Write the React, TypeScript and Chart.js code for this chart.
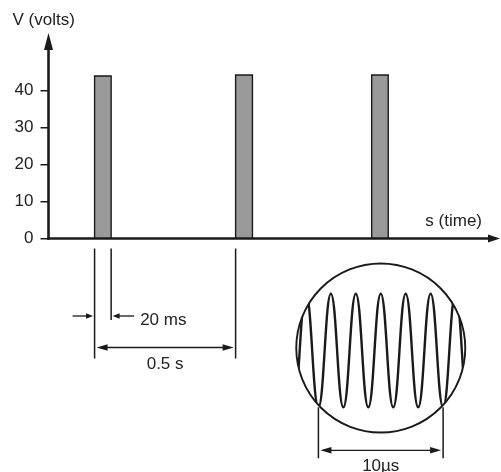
import { useEffect, useRef } from "react";
import { Chart, registerables } from "chart.js";

Chart.register(...registerables);

// ---- data ----
const yTickValues = [0, 10, 20, 30, 40];
const pulseStarts = [0.167, 0.678, 1.171]; // s
const pulseEnds = [0.227, 0.739, 1.231]; // s (schematic pulse width)
const pulseVolts = [43.9, 44.2, 44.2]; // V
const waveTimes = [-3, -2, -1, 0, 1, 2, 3, 4, 5, 6, 7, 8, 9, 10, 11, 12, 13, 14]; // µs
const waveLevels = [1, -1, 1, -1, 1, -1, 1, -1, 1, -1, 1, -1, 1, -1, 1, -1, 1, -1];
const burstSpan = [0, 10]; // µs

const yTitle = "V (volts)";
const xTitle = "s (time)";
const widthLabel = "20 ms";
const periodLabel = "0.5 s";
const burstLabel = "10µs";

const FONT = '"Liberation Sans", Arial, Helvetica, sans-serif';
const INK = "#1a1a1a";

function head(ctx: CanvasRenderingContext2D, tx: number, ty: number, dx: number, dy: number, len: number, hw: number) {
  const bx = tx - dx * len;
  const by = ty - dy * len;
  const px = -dy;
  const py = dx;
  ctx.beginPath();
  ctx.moveTo(tx, ty);
  ctx.lineTo(bx + px * hw, by + py * hw);
  ctx.lineTo(bx - px * hw, by - py * hw);
  ctx.closePath();
  ctx.fill();
}

function hline(ctx: CanvasRenderingContext2D, x1: number, y1: number, x2: number, y2: number) {
  ctx.beginPath();
  ctx.moveTo(x1, y1);
  ctx.lineTo(x2, y2);
  ctx.stroke();
}

const mainPlugin = {
  id: "mainDecor",
  afterDraw(chart: any) {
    const { ctx, chartArea: a, scales } = chart;
    const x = scales.x;
    const y = scales.y;
    const x0 = x.getPixelForValue(0);
    const y0 = y.getPixelForValue(0);
    ctx.save();
    ctx.strokeStyle = INK;
    ctx.fillStyle = INK;
    // axes
    ctx.lineWidth = 2.6;
    hline(ctx, x0, y0 + 1.3, x0, a.top + 14);
    head(ctx, x0, a.top, 0, -1, 17, 4.5);
    hline(ctx, x0 - 1.3, y0, a.right - 10, y0);
    head(ctx, a.right, y0, 1, 0, 12, 4);

    // titles
    ctx.font = `17px ${FONT}`;
    ctx.fillStyle = "#222";
    ctx.textBaseline = "alphabetic";
    ctx.textAlign = "left";
    ctx.fillText(yTitle, 12.5, a.top - 8);
    ctx.textAlign = "right";
    ctx.fillText(xTitle, a.right - 18, y0 - 13);

    // dimension lines
    const xs = x.getPixelForValue(pulseStarts[0]);
    const xe = x.getPixelForValue(pulseEnds[0]);
    const xn = x.getPixelForValue(pulseStarts[1]);
    ctx.strokeStyle = INK;
    ctx.fillStyle = INK;
    ctx.lineWidth = 1.5;
    hline(ctx, xs, y0 + 10, xs, y0 + 120);
    hline(ctx, xe, y0 + 10, xe, y0 + 81.5);
    hline(ctx, xn, y0 + 10, xn, y0 + 120);

    const ya = y0 + 77.5;
    ctx.lineWidth = 1.3;
    hline(ctx, xs - 22, ya, xs - 6, ya);
    head(ctx, xs - 1.5, ya, 1, 0, 7, 2.8);
    hline(ctx, xe + 23, ya, xe + 6, ya);
    head(ctx, xe + 1.5, ya, -1, 0, 7, 2.8);

    const yp = y0 + 109;
    hline(ctx, xs + 8, yp, xn - 8, yp);
    head(ctx, xs + 2, yp, -1, 0, 11, 3.2);
    head(ctx, xn - 2, yp, 1, 0, 11, 3.2);

    ctx.fillStyle = "#222";
    ctx.font = `17px ${FONT}`;
    ctx.textAlign = "left";
    ctx.fillText(widthLabel, xe + 29, y0 + 86.5);
    ctx.textAlign = "center";
    ctx.fillText(periodLabel, (xs + xn) / 2, y0 + 130);
    ctx.restore();
  },
};

const insetPlugin = {
  id: "insetDecor",
  beforeDatasetsDraw(chart: any) {
    const { ctx, scales } = chart;
    const cx = scales.x.getPixelForValue((burstSpan[0] + burstSpan[1]) / 2);
    const cy = scales.y.getPixelForValue(0) - 2.5;
    ctx.save();
    ctx.beginPath();
    ctx.arc(cx, cy, 84.5, 0, Math.PI * 2);
    ctx.clip();
  },
  afterDatasetsDraw(chart: any) {
    chart.ctx.restore();
  },
  afterDraw(chart: any) {
    const { ctx, scales } = chart;
    const x = scales.x;
    const y = scales.y;
    const cx = x.getPixelForValue((burstSpan[0] + burstSpan[1]) / 2);
    const cy = y.getPixelForValue(0) - 2.5;
    ctx.save();
    ctx.strokeStyle = INK;
    ctx.fillStyle = INK;
    ctx.lineWidth = 1.9;
    ctx.beginPath();
    ctx.arc(cx, cy, 84.5, 0, Math.PI * 2);
    ctx.stroke();

    const xl = x.getPixelForValue(burstSpan[0]);
    const xr = x.getPixelForValue(burstSpan[1]);
    const yb = y.getPixelForValue(-1);
    ctx.lineWidth = 1.5;
    hline(ctx, xl, yb, xl, yb + 51);
    hline(ctx, xr, yb, xr, yb + 51);
    const ya = yb + 43;
    ctx.lineWidth = 1.3;
    hline(ctx, xl + 8, ya, xr - 8, ya);
    head(ctx, xl + 2, ya, -1, 0, 11, 3.2);
    head(ctx, xr - 2, ya, 1, 0, 11, 3.2);

    ctx.fillStyle = "#222";
    ctx.font = `17px ${FONT}`;
    ctx.textAlign = "center";
    ctx.textBaseline = "alphabetic";
    ctx.fillText(burstLabel, cx, yb + 63.5);
    ctx.restore();
  },
};

export default function App() {
  const mainRef = useRef<HTMLCanvasElement>(null);
  const insetRef = useRef<HTMLCanvasElement>(null);

  useEffect(() => {
    const main = new Chart(mainRef.current!, {
      type: "line",
      data: {
        datasets: pulseStarts.map((s, i) => ({
          data: [
            { x: s, y: 0 },
            { x: s, y: pulseVolts[i] },
            { x: pulseEnds[i], y: pulseVolts[i] },
            { x: pulseEnds[i], y: 0 },
          ],
          fill: "origin",
          backgroundColor: "#9a9a9a",
          borderColor: INK,
          borderWidth: 1.4,
          pointRadius: 0,
          tension: 0,
        })),
      },
      options: {
        animation: false,
        responsive: false,
        events: [],
        layout: { padding: { top: 33, bottom: 233.5, left: 0, right: 1 } },
        plugins: { legend: { display: false }, tooltip: { enabled: false } },
        scales: {
          x: { type: "linear", display: false, min: 0, max: 1.636 },
          y: {
            type: "linear",
            min: 0,
            max: 55.54,
            afterFit: (s: any) => {
              s.width = 48.5;
            },
            afterBuildTicks: (s: any) => {
              s.ticks = yTickValues.map((v) => ({ value: v }));
            },
            grid: {
              drawOnChartArea: false,
              drawTicks: true,
              tickLength: 8,
              color: INK,
              tickColor: INK,
              lineWidth: 1.5,
              tickWidth: 1.5,
            },
            border: { display: false },
            ticks: { padding: 7, color: "#222", font: { family: FONT, size: 17 } },
          },
        },
      } as any,
      plugins: [mainPlugin],
    });

    const inset = new Chart(insetRef.current!, {
      type: "line",
      data: {
        datasets: [
          {
            data: waveTimes.map((t, i) => ({ x: t, y: waveLevels[i] })),
            borderColor: INK,
            borderWidth: 2.4,
            pointRadius: 0,
            tension: 0.45,
            fill: false,
            clip: false,
          },
        ],
      },
      options: {
        animation: false,
        responsive: false,
        events: [],
        layout: { padding: 0 },
        plugins: { legend: { display: false }, tooltip: { enabled: false } },
        scales: {
          x: { type: "linear", display: false, min: -3, max: 14 },
          y: { type: "linear", display: false, min: -2.14, max: 1.7 },
        },
      } as any,
      plugins: [insetPlugin],
    });

    return () => {
      main.destroy();
      inset.destroy();
    };
  }, []);

  return (
    <div style={{ position: "absolute", left: 0, top: 0, width: 501, height: 472, background: "#fff" }}>
      <canvas ref={mainRef} width={501} height={472} style={{ position: "absolute", left: 0, top: 0 }} />
      <canvas ref={insetRef} width={212} height={218} style={{ position: "absolute", left: 281, top: 254 }} />
    </div>
  );
}
